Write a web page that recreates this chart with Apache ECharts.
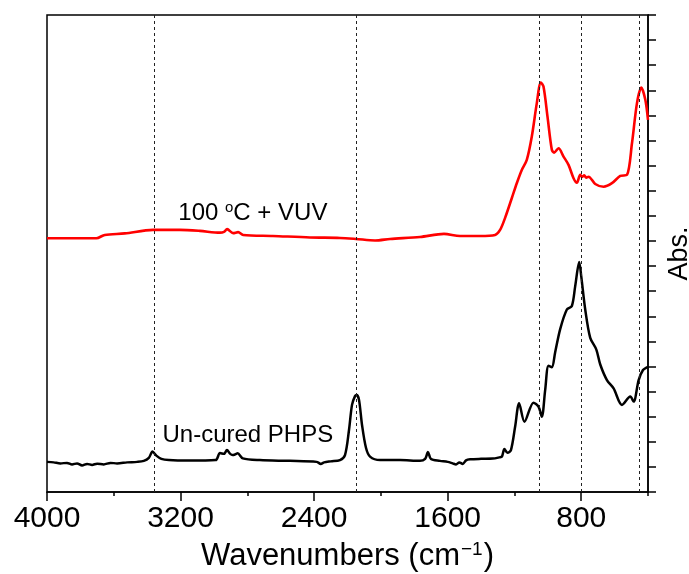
<!DOCTYPE html>
<html>
<head>
<meta charset="utf-8">
<script src="https://cdn.jsdelivr.net/npm/echarts@6/dist/echarts.min.js"></script>
<style>
  html, body { margin: 0; padding: 0; background: #fff; }
  #chart { width: 689px; height: 574px; }
</style>
</head>
<body>
<div id="chart"></div>
<script>
// FTIR spectra: un-cured PHPS film vs. film after 100 °C + VUV curing
const uncuredWn = [4000, 3960, 3920, 3880, 3850, 3820, 3790, 3760, 3730, 3700, 3660, 3620, 3580, 3520, 3460, 3420, 3390, 3368, 3345, 3315, 3270, 3150, 2990, 2964, 2940, 2922, 2904, 2888, 2872, 2858, 2827, 2725, 2545, 2385, 2360, 2340, 2300, 2245, 2215, 2191, 2173, 2155, 2145, 2131, 2113, 2089, 2065, 2005, 1885, 1766, 1735, 1718, 1700, 1646, 1600, 1570, 1550, 1530, 1510, 1490, 1465, 1400, 1330, 1290, 1275, 1260, 1242, 1221, 1196, 1172, 1140, 1086, 1056, 1036, 1016, 996, 976, 956, 926, 886, 856, 836, 812, 800, 776, 746, 710, 686, 646, 606, 556, 506, 486, 456, 430, 406, 400];
const uncuredAbs = [1.20, 1.18, 1.14, 1.16, 1.10, 1.14, 1.06, 1.12, 1.08, 1.13, 1.10, 1.16, 1.14, 1.18, 1.20, 1.24, 1.36, 1.61, 1.45, 1.32, 1.27, 1.25, 1.27, 1.55, 1.52, 1.67, 1.53, 1.47, 1.50, 1.54, 1.34, 1.27, 1.24, 1.20, 1.12, 1.18, 1.22, 1.27, 1.47, 2.47, 3.47, 3.82, 3.86, 3.67, 2.67, 1.75, 1.41, 1.27, 1.27, 1.24, 1.32, 1.59, 1.31, 1.24, 1.20, 1.14, 1.10, 1.18, 1.12, 1.26, 1.30, 1.32, 1.33, 1.38, 1.41, 1.71, 1.56, 1.67, 2.60, 3.54, 2.80, 3.56, 3.40, 3.00, 4.06, 5.03, 4.97, 5.57, 6.49, 7.27, 7.41, 8.20, 9.16, 8.60, 7.27, 6.14, 5.68, 5.08, 4.46, 4.13, 3.47, 3.80, 3.60, 4.46, 4.86, 4.97, 4.98];

const curedWn = [4000, 3800, 3704, 3654, 3534, 3366, 3204, 3084, 2964, 2940, 2921, 2885, 2855, 2825, 2647, 2425, 2245, 2149, 2035, 1945, 1766, 1622, 1526, 1406, 1316, 1286, 1256, 1216, 1186, 1156, 1126, 1096, 1066, 1042, 1026, 1002, 976, 962, 936, 906, 876, 846, 826, 806, 794, 782, 770, 756, 716, 666, 616, 566, 526, 496, 466, 440, 416, 400];
const curedAbs = [10.11, 10.11, 10.11, 10.24, 10.30, 10.44, 10.44, 10.40, 10.33, 10.36, 10.47, 10.31, 10.35, 10.24, 10.20, 10.14, 10.12, 10.08, 10.02, 10.08, 10.16, 10.28, 10.20, 10.20, 10.24, 10.44, 10.92, 11.70, 12.30, 12.83, 13.23, 14.16, 15.49, 16.31, 16.15, 14.95, 13.63, 13.52, 13.69, 13.36, 13.03, 12.50, 12.32, 12.63, 12.55, 12.61, 12.52, 12.56, 12.27, 12.16, 12.30, 12.59, 12.63, 13.89, 15.49, 16.11, 15.62, 14.82];

// Reference band positions (cm-1) marked with dashed guides
const bandLines = [3360, 2145, 1050, 800, 450];

// Axis ticks
const majorTicks = [4000, 3200, 2400, 1600, 800];
const minorTicks = [3600, 2800, 2000, 1200, 400];

const zip = (xs, ys) => xs.map((x, i) => [x, ys[i]]);

const FONT = 'Liberation Sans, Arial, sans-serif';
const chart = echarts.init(document.getElementById('chart'), null, { renderer: 'canvas' });

chart.setOption({
  animation: false,
  backgroundColor: '#fff',
  grid: {
    left: 47, right: 41, top: 15, bottom: 82,
    outerBoundsMode: 'none', containLabel: false,
    show: true, borderColor: '#000', borderWidth: 1.5, backgroundColor: 'transparent'
  },
  xAxis: [
    {
      type: 'value', min: 400, max: 4000, inverse: true, position: 'bottom',
      axisLine: { show: true, onZero: false, lineStyle: { color: '#000', width: 1.5 } },
      axisTick: { show: true, customValues: minorTicks, length: 4, lineStyle: { color: '#000', width: 1.5 } },
      axisLabel: { show: false },
      splitLine: { show: false }
    },
    {
      type: 'value', min: 400, max: 4000, inverse: true, position: 'bottom',
      axisLine: { show: false, onZero: false },
      axisTick: { show: true, customValues: majorTicks, length: 9, lineStyle: { color: '#000', width: 1.5 } },
      axisLabel: {
        show: true, customValues: majorTicks, formatter: v => String(v),
        fontSize: 30, color: '#000', fontFamily: FONT, margin: 12
      },
      splitLine: { show: false },
      name: '{t|Wavenumbers (cm}{s|\u22121}{t|)}',
      nameLocation: 'middle', nameGap: 48,
      nameTextStyle: {
        rich: {
          t: { fontSize: 31, color: '#000', fontFamily: FONT },
          s: { fontSize: 19, color: '#000', fontFamily: FONT, verticalAlign: 'top', padding: [0, 1, 14, 1] }
        }
      }
    }
  ],
  yAxis: {
    type: 'value', min: 0, max: 19, interval: 1, position: 'right',
    axisLine: { show: true, lineStyle: { color: '#000', width: 1.5 } },
    axisTick: { show: true, inside: false, length: 8, lineStyle: { color: '#000', width: 1.5 } },
    axisLabel: { show: false },
    splitLine: { show: false },
    name: 'Abs.', nameLocation: 'middle', nameRotate: 90, nameGap: 18,
    nameTextStyle: { fontSize: 27, color: '#000', fontFamily: FONT }
  },
  series: [
    {
      name: 'Un-cured PHPS', type: 'line', xAxisIndex: 0,
      data: zip(uncuredWn, uncuredAbs),
      showSymbol: false, smooth: 0.3,
      lineStyle: { color: '#000', width: 2.5 },
      markLine: {
        silent: true, symbol: 'none',
        label: { show: false },
        lineStyle: { type: [3, 3], color: '#222', width: 1 },
        data: bandLines.map(v => ({ xAxis: v }))
      },
      markPoint: {
        symbol: 'circle', symbolSize: 0,
        label: { show: true, position: 'inside', formatter: 'Un-cured PHPS', fontSize: 24, color: '#000', fontFamily: FONT },
        data: [{ coord: [2797, 2.27] }]
      }
    },
    {
      name: '100 \u00b0C + VUV', type: 'line', xAxisIndex: 0,
      data: zip(curedWn, curedAbs),
      showSymbol: false, smooth: 0.3,
      lineStyle: { color: '#ff0000', width: 2.6 },
      markPoint: {
        symbol: 'circle', symbolSize: 0,
        label: {
          show: true, position: 'inside',
          formatter: '{t|100 }{s|o}{t|C + VUV}',
          rich: {
            t: { fontSize: 24, color: '#000', fontFamily: FONT },
            s: { fontSize: 15, color: '#000', fontFamily: FONT, verticalAlign: 'top', padding: [0, 0, 11, 0] }
          }
        },
        data: [{ coord: [2767, 11.1] }]
      }
    }
  ]
});
</script>
</body>
</html>
